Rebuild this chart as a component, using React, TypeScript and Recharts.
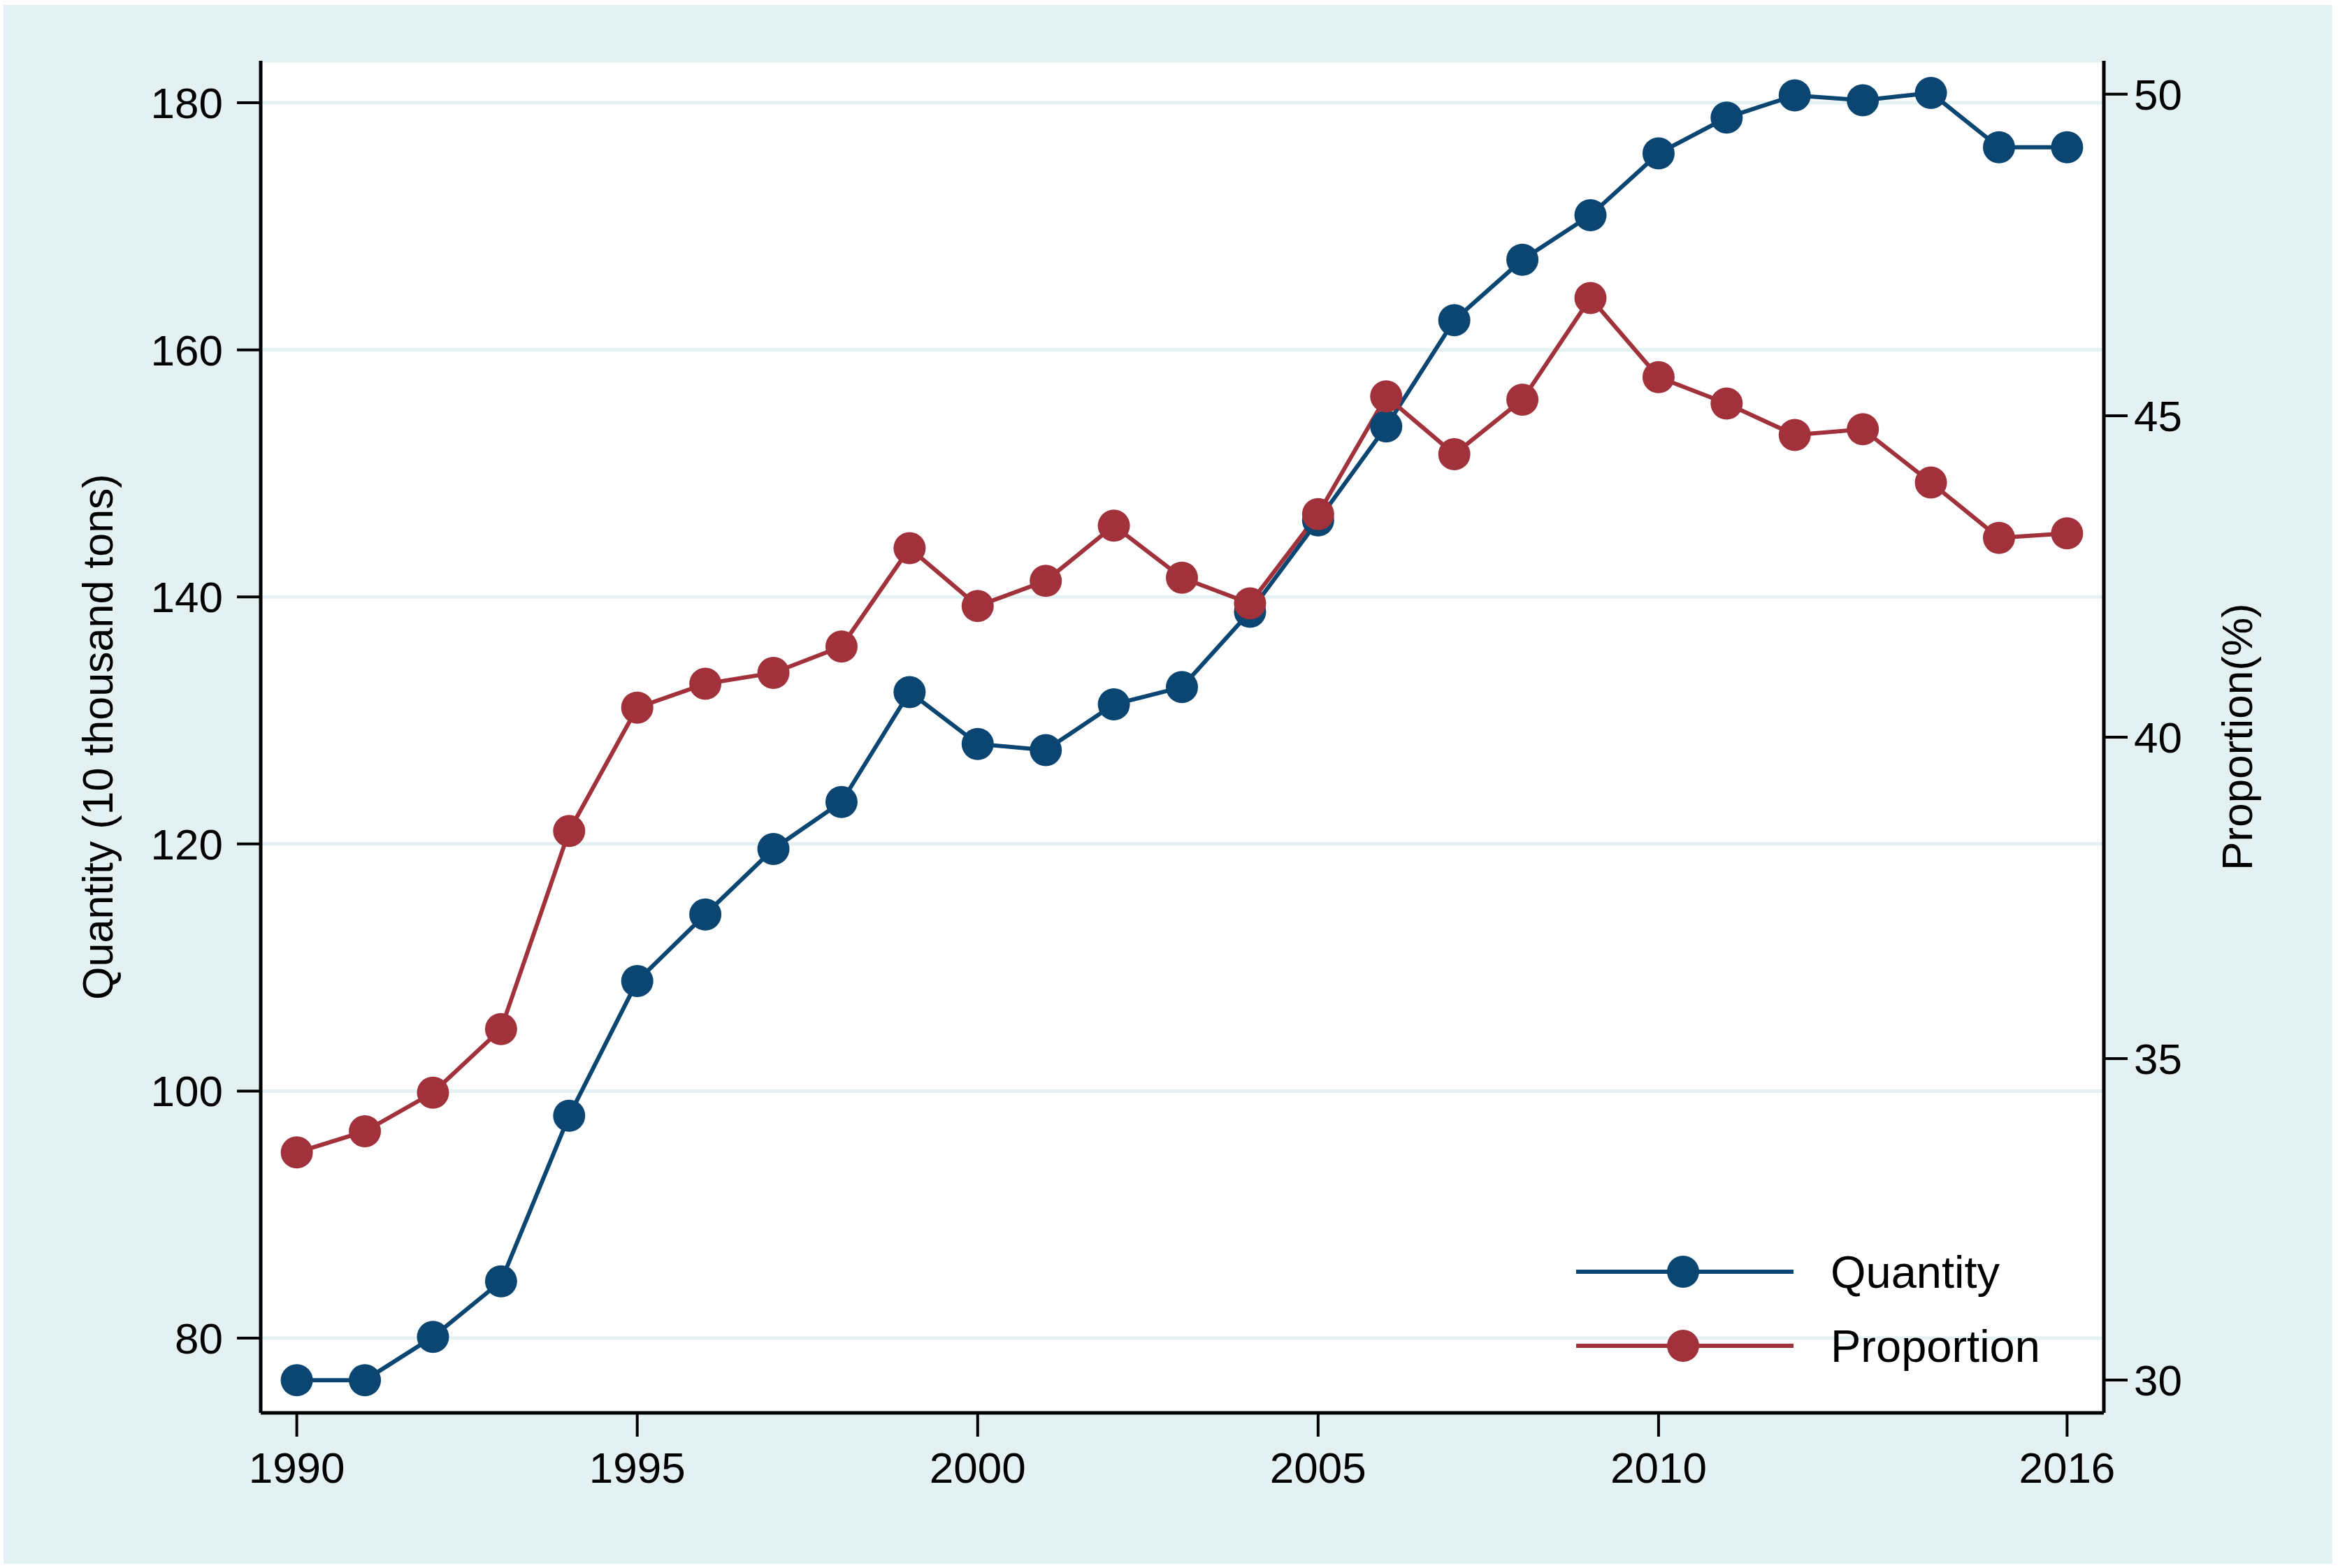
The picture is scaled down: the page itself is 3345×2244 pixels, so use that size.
import React from 'react';
import {
  LineChart,
  Line,
  XAxis,
  YAxis,
  CartesianGrid,
  Legend,
  Label,
} from 'recharts';

const years = [
  1990, 1991, 1992, 1993, 1994, 1995, 1996, 1997, 1998, 1999, 2000, 2001, 2002, 2003,
  2004, 2005, 2006, 2007, 2008, 2009, 2010, 2011, 2012, 2013, 2014, 2015, 2016,
];
const quantity = [
  76.6, 76.6, 80.1, 84.6, 98.0, 108.9, 114.3, 119.6, 123.4, 132.3, 128.1, 127.6, 131.3, 132.7,
  138.8, 146.2, 153.8, 162.4, 167.3, 170.9, 175.9, 178.8, 180.6, 180.2, 180.8, 176.4, 176.4,
];
const proportion = [
  33.54, 33.87, 34.47, 35.46, 38.54, 40.46, 40.83, 41.0, 41.41, 42.94, 42.04, 42.43, 43.29, 42.48,
  42.08, 43.47, 45.3, 44.4, 45.25, 46.83, 45.6, 45.19, 44.7, 44.79, 43.96, 43.1, 43.17,
];
const seriesNames = ['Quantity', 'Proportion'];
const xTicks = [1990, 1995, 2000, 2005, 2010, 2016];
const leftTicks = [80, 100, 120, 140, 160, 180];
const rightTicks = [30, 35, 40, 45, 50];

const data = years.map((year, i) => ({
  year,
  quantity: quantity[i],
  proportion: proportion[i],
}));

const BLUE = '#0a4671';
const RED = '#a1323b';
const BG = '#e3f1f2';
const FONT = '"Liberation Sans", Arial, Helvetica, sans-serif';

const tickStyle = { fontSize: 62, fill: '#000', fontFamily: FONT };

function renderLegend(props: any) {
  const items = [...(props.payload || [])].sort(
    (a: any, b: any) => seriesNames.indexOf(a.value) - seriesNames.indexOf(b.value)
  );
  return (
    <svg width={800} height={240}>
      {items.map((item: any, i: number) => {
        const cy = 60 + i * 106;
        return (
          <g key={item.value}>
            <line x1={15} x2={326} y1={cy} y2={cy} stroke={item.color} strokeWidth={6} />
            <circle cx={168} cy={cy} r={23} fill={item.color} />
            <text
              x={379}
              y={cy}
              dy="0.36em"
              fontSize={65}
              fontFamily={FONT}
              fill="#000"
            >
              {item.value}
            </text>
          </g>
        );
      })}
    </svg>
  );
}

export default function App() {
  return (
    <div
      style={{
        position: 'absolute',
        left: 0,
        top: 0,
        width: 3345,
        height: 2244,
        background: '#fff',
      }}
    >
      <div
        style={{
          position: 'absolute',
          left: 5,
          top: 7,
          width: 3332,
          height: 2231,
          background: BG,
        }}
      />
      <div style={{ position: 'absolute', left: 0, top: 0 }}>
        <LineChart
          width={3345}
          height={2244}
          data={data}
          margin={{ top: 87, right: 85, bottom: 72, left: 173 }}
        >
          <CartesianGrid
            yAxisId="left"
            vertical={false}
            horizontal
            stroke={BG}
            strokeWidth={5}
            fill="#fff"
          />
          <XAxis
            dataKey="year"
            type="number"
            domain={[1989.47, 2016.54]}
            ticks={xTicks}
            interval={0}
            height={150}
            tickSize={34}
            tickMargin={22}
            tick={tickStyle}
            axisLine={{ stroke: '#000', strokeWidth: 5 }}
            tickLine={{ stroke: '#000', strokeWidth: 4 }}
            allowDataOverflow
          />
          <YAxis
            yAxisId="left"
            orientation="left"
            type="number"
            domain={[73.95, 183.4]}
            ticks={leftTicks}
            interval={0}
            width={200}
            tickSize={34}
            tickMargin={20}
            tick={tickStyle}
            axisLine={{ stroke: '#000', strokeWidth: 5 }}
            tickLine={{ stroke: '#000', strokeWidth: 4 }}
            allowDataOverflow
          >
            <Label
              content={(p: any) => {
                const vb = p.viewBox || {};
                const cx = vb.x - 34;
                const cy = vb.y + vb.height / 2;
                return (
                  <text
                    x={cx}
                    y={cy}
                    transform={`rotate(-90 ${cx} ${cy})`}
                    textAnchor="middle"
                    dy="0.36em"
                    fontSize={61}
                    fontFamily={FONT}
                    fill="#000"
                  >
                    Quantity (10 thousand tons)
                  </text>
                );
              }}
            />
          </YAxis>
          <YAxis
            yAxisId="right"
            orientation="right"
            type="number"
            domain={[29.49, 50.52]}
            ticks={rightTicks}
            interval={0}
            width={250}
            tickSize={34}
            tickMargin={9}
            tick={tickStyle}
            axisLine={{ stroke: '#000', strokeWidth: 5 }}
            tickLine={{ stroke: '#000', strokeWidth: 4 }}
            allowDataOverflow
          >
            <Label
              content={(p: any) => {
                const vb = p.viewBox || {};
                const cx = vb.x + 190;
                const cy = vb.y + vb.height / 2;
                return (
                  <text
                    x={cx}
                    y={cy}
                    transform={`rotate(-90 ${cx} ${cy})`}
                    textAnchor="middle"
                    dy="0.36em"
                    fontSize={62}
                    fontFamily={FONT}
                    fill="#000"
                  >
                    Proportion(%)
                  </text>
                );
              }}
            />
          </YAxis>
          <Legend
            layout="vertical"
            align="center"
            verticalAlign="middle"
            wrapperStyle={{ left: 2240, top: 1760, width: 800, height: 240 }}
            content={renderLegend}
          />
          <Line
            yAxisId="left"
            dataKey="quantity"
            name="Quantity"
            type="linear"
            stroke={BLUE}
            strokeWidth={6}
            dot={{ r: 23, fill: BLUE, stroke: 'none', strokeWidth: 0 }}
            activeDot={false}
            isAnimationActive={false}
          />
          <Line
            yAxisId="right"
            dataKey="proportion"
            name="Proportion"
            type="linear"
            stroke={RED}
            strokeWidth={6}
            dot={{ r: 23, fill: RED, stroke: 'none', strokeWidth: 0 }}
            activeDot={false}
            isAnimationActive={false}
          />
        </LineChart>
      </div>
    </div>
  );
}
